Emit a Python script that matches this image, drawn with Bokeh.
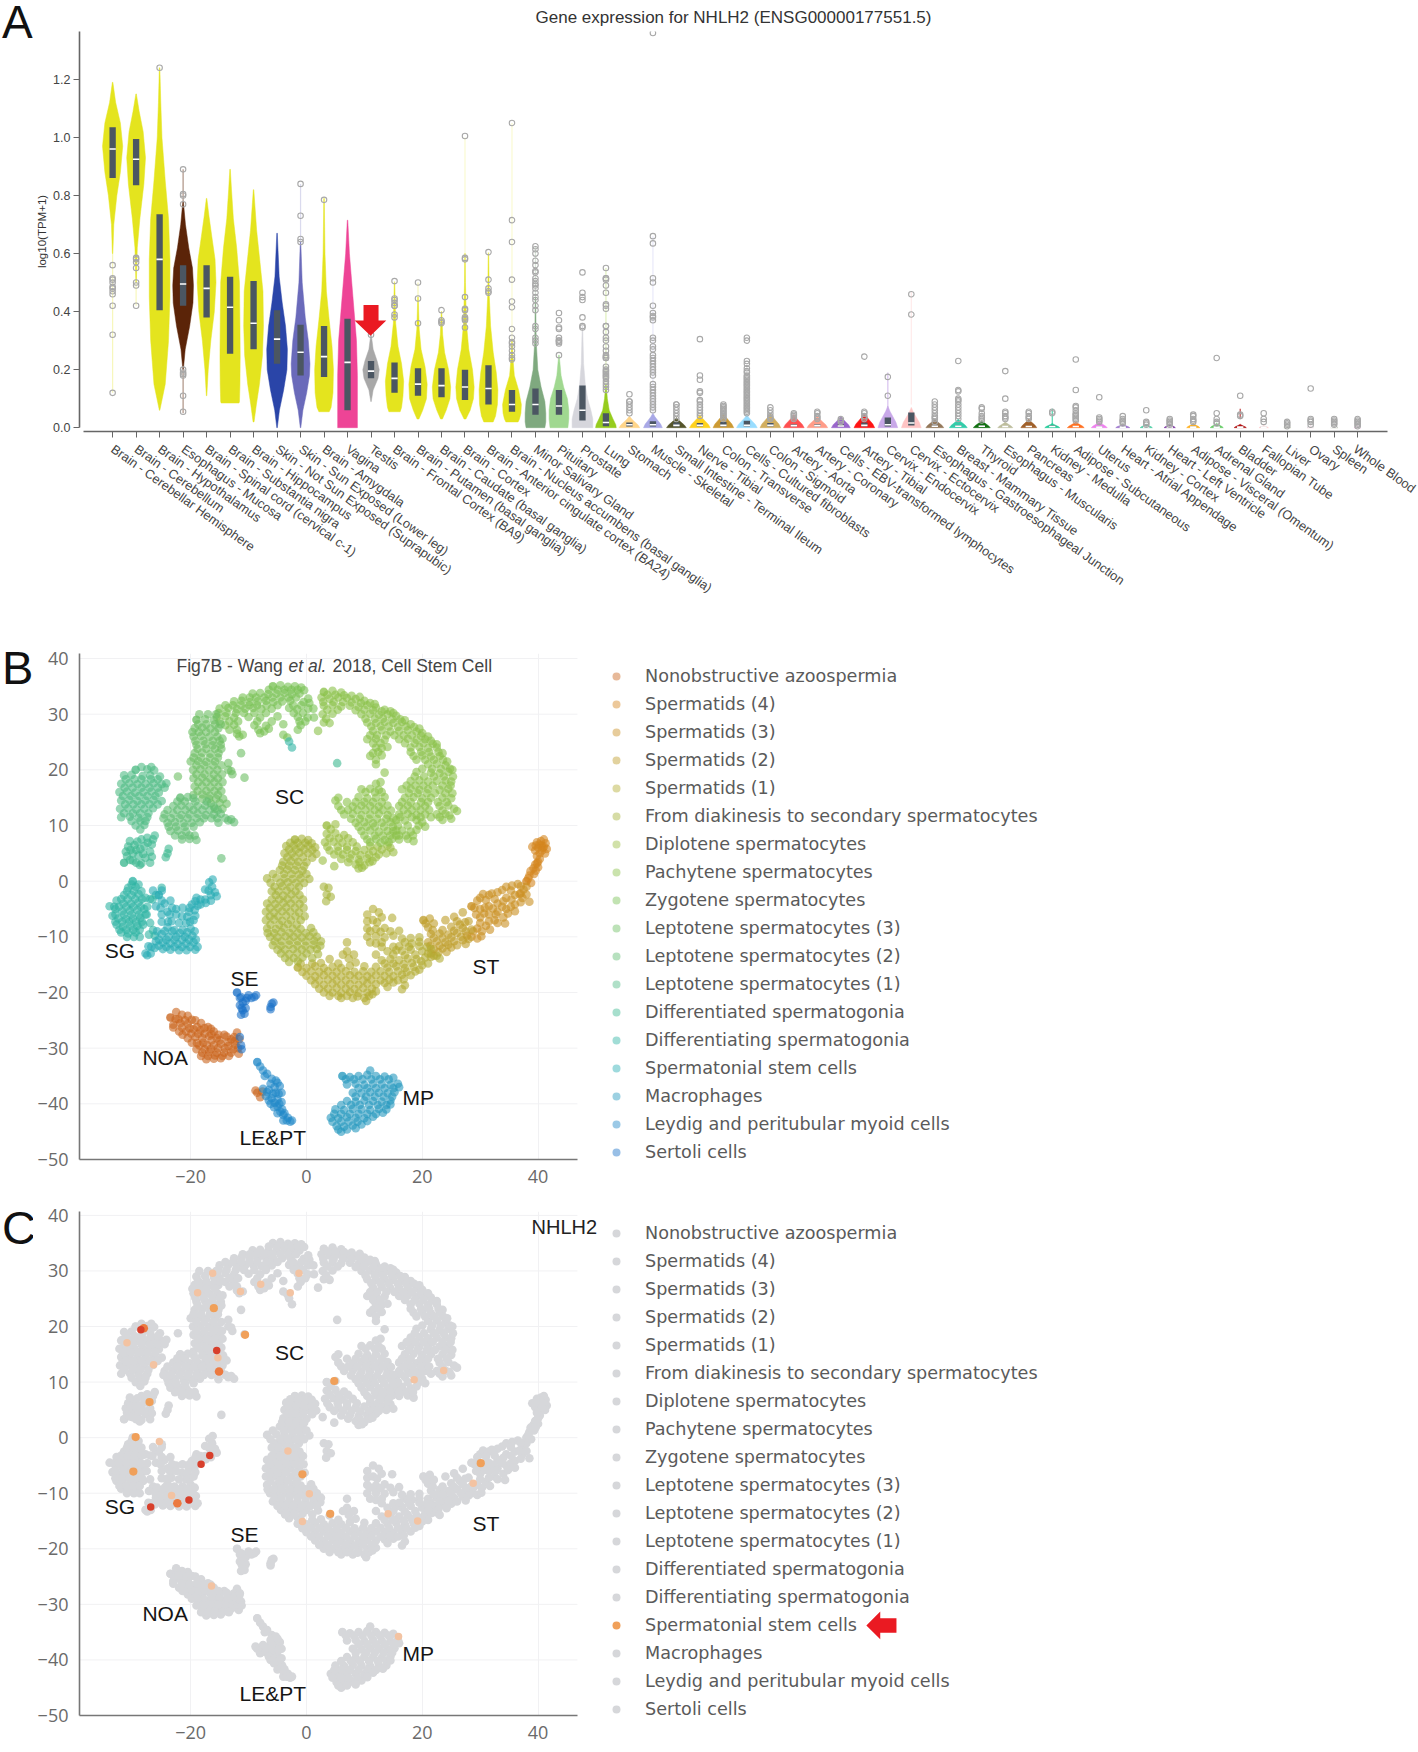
from bokeh.plotting import figure
from bokeh.layouts import column, row
from bokeh.embed import file_html
from bokeh.resources import INLINE
from bokeh.core.properties import value
from bokeh.models import (FixedTicker, Label, Legend, LegendItem, Range1d)
from math import radians

# ---------------------------------------------------------------- panel A data
tissues = ["Brain - Cerebellar Hemisphere", "Brain - Cerebellum", "Brain - Hypothalamus", "Esophagus - Mucosa",
           "Brain - Spinal cord (cervical c-1)", "Brain - Substantia nigra", "Brain - Hippocampus",
           "Skin - Not Sun Exposed (Suprapubic)", "Skin - Sun Exposed (Lower leg)", "Brain - Amygdala", "Vagina", "Testis",
           "Brain - Frontal Cortex (BA9)", "Brain - Putamen (basal ganglia)", "Brain - Caudate (basal ganglia)",
           "Brain - Cortex", "Brain - Anterior cingulate cortex (BA24)", "Brain - Nucleus accumbens (basal ganglia)",
           "Minor Salivary Gland", "Pituitary", "Prostate", "Lung", "Stomach", "Muscle - Skeletal",
           "Small Intestine - Terminal Ileum", "Nerve - Tibial", "Colon - Transverse", "Cells - Cultured fibroblasts",
           "Colon - Sigmoid", "Artery - Aorta", "Artery - Coronary", "Cells - EBV-transformed lymphocytes",
           "Artery - Tibial", "Cervix - Endocervix", "Cervix - Ectocervix", "Esophagus - Gastroesophageal Junction",
           "Breast - Mammary Tissue", "Thyroid", "Esophagus - Muscularis", "Pancreas", "Kidney - Medulla",
           "Adipose - Subcutaneous", "Uterus", "Heart - Atrial Appendage", "Kidney - Cortex", "Heart - Left Ventricle",
           "Adipose - Visceral (Omentum)", "Adrenal Gland", "Bladder", "Fallopian Tube", "Liver", "Ovary", "Spleen",
           "Whole Blood"]
Y = "#E4E41E"
tissue_colors = [Y, Y, Y, "#5B2408", Y, Y, Y, "#2A45A8", "#6A6ABA", Y, "#EE4496", "#A8A8A8", Y, Y, Y, Y, Y, Y,
                 "#7FA97F", "#A0D890", "#D6D6DC", "#96CC1E", "#FFD58A", "#A8A8E6", "#55552A", "#FFD21E", "#CC9A33",
                 "#99DDFF", "#D2AE5E", "#FF5050", "#FF9C88", "#9A66CC", "#FF1414", "#C8A8E8", "#FFC4C4", "#94785A",
                 "#33CCAA", "#107010", "#BDBD9C", "#A0602A", "#22CC99", "#FF7020", "#EE82EE", "#9A70CC", "#44CCA0",
                 "#7A30A0", "#FFB020", "#66CC66", "#B01010", "#FFCCCC", "#AABB66", "#FFAACC", "#788855", "#FF40C0"]

# violin outlines: heights and half widths (tall violins)
violin_y = [
    [.60, .70, .80, .88, .97, 1.05, 1.12, 1.19],
    [.50, .62, .72, .84, .93, 1.02, 1.09, 1.15],
    [.06, .15, .30, .45, .58, .72, .85, 1.0, 1.12, 1.24],
    [.20, .27, .35, .43, .49, .55, .62, .70, .78],
    [.11, .20, .30, .40, .50, .58, .66, .73, .79],
    [.085, .09, .15, .25, .35, .50, .62, .72, .82, .89],
    [.02, .08, .15, .25, .35, .47, .58, .68, .82],
    [.0, .06, .13, .20, .27, .35, .43, .52, .67],
    [.0, .06, .12, .18, .22, .30, .38, .50, .64],
    [.055, .07, .12, .20, .28, .37, .47, .60, .79],
    [.0, .08, .18, .30, .40, .50, .60, .715],
    [.09, .13, .17, .20, .23, .27, .32],
    [.055, .07, .11, .16, .22, .28, .36, .50],
    [.03, .06, .10, .15, .21, .27, .34, .45],
    [.03, .06, .10, .14, .20, .26, .32, .40],
    [.03, .06, .10, .14, .20, .27, .36, .50, .60],
    [.02, .04, .08, .13, .19, .26, .35, .46, .60],
    [.02, .03, .05, .08, .13, .18, .23, .30],
    [.0, .02, .05, .09, .14, .20, .30, .45],
    [.0, .03, .06, .10, .14, .18, .25],
    [.0, .03, .06, .10, .15, .22, .35],
    [.0, .01, .03, .06, .10, .15],
]
violin_w = [
    [.01, .05, .18, .33, .43, .33, .13, .01],
    [.01, .05, .16, .33, .40, .30, .13, .01],
    [.01, .24, .38, .44, .44, .38, .24, .10, .05, .01],
    [.01, .09, .28, .42, .44, .40, .24, .10, .01],
    [.01, .07, .18, .33, .40, .36, .22, .10, .01],
    [.38, .40, .42, .43, .42, .40, .28, .14, .06, .01],
    [.02, .12, .25, .38, .42, .40, .26, .13, .01],
    [.01, .10, .28, .42, .44, .36, .22, .09, .01],
    [.01, .10, .26, .38, .40, .33, .20, .07, .01],
    [.22, .30, .38, .40, .34, .22, .10, .04, .01],
    [.42, .42, .42, .38, .28, .18, .08, .01],
    [.01, .09, .30, .35, .26, .09, .01],
    [.24, .30, .36, .39, .30, .15, .05, .01],
    [.04, .20, .36, .39, .30, .13, .05, .01],
    [.04, .20, .36, .39, .30, .13, .05, .01],
    [.04, .22, .36, .39, .32, .16, .06, .02, .01],
    [.20, .30, .38, .40, .33, .20, .09, .03, .01],
    [.26, .32, .38, .40, .28, .10, .05, .01],
    [.40, .44, .44, .40, .24, .10, .03, .01],
    [.38, .42, .42, .36, .20, .09, .01],
    [.44, .44, .36, .22, .12, .05, .01],
    [.44, .42, .30, .14, .06, .01],
]
# low violins, from the 23rd tissue on
low_top = [.04, .05, .035, .045, .05, .045, .05, .045, .04, .04, .05, .075, .07, .03, .03, .025, .02, .03, .015, .02,
           .02, .012, .012, .012, .015, .015, .012, .008, .005, .006, .005, .005]
low_hw = [.44, .40, .42, .44, .44, .44, .44, .44, .44, .40, .44, .42, .42, .38, .38, .36, .32, .34, .32, .36, .34, .30,
          .26, .24, .28, .28, .26, .20, .14, .14, .14, .14]
low_steps = [0, .25, .5, .75, 1]
low_shape = [1, .82, .52, .22, 0]

box_q1 = [.86, .835, .405, .42, .38, .255, .27, .22, .18, .175, .06, .17, .12, .11, .105, .095, .08, .055, .045, .045,
          .025, .005, .004, .004, .004, .004, .004, .004, .004, .004, .004, .004, .004, .004, .008, .003, .003, .003,
          .002, .002, .002, .002, .001, .001, .001, .001, .001, .001, .001, .001, .001, .001, .001, .001]
box_med = [.96, .925, .58, .495, .48, .415, .36, .305, .26, .245, .225, .195, .17, .15, .145, .14, .135, .08, .08, .075,
           .06, .018, .01, .01, .008, .008, .008, .008, .008, .007, .007, .006, .008, .01, .016, .005, .005, .005,
           .004, .004, .004, .004, .002, .002, .002, .002, .002, .002, .002, .002, .002, .002, .002, .002]
box_q3 = [1.035, .995, .735, .56, .56, .52, .505, .405, .355, .35, .375, .23, .225, .205, .205, .2, .215, .13, .135, .13,
          .145, .05, .018, .022, .018, .016, .02, .024, .016, .012, .012, .012, .018, .035, .052, .008, .008, .008,
          .006, .006, .008, .006, .004, .004, .004, .004, .004, .004, .003, .003, .003, .003, .003, .003]

# thin outlier tails of the violins: tissue index, low, high
stem_i = [0, 1, 3, 3, 8, 9, 12, 13, 15, 16, 17, 18, 21, 23, 33, 34, 40, 48]
stem_lo = [.12, .42, .05, .78, .64, .79, .50, .45, .60, .60, .30, .45, .15, .05, .05, .08, .01, .03]
stem_hi = [.60, .50, .20, .89, .84, .79, .505, .50, 1.0, .605, 1.05, .625, .55, .66, .19, .47, .065, .065]
stem_alpha = [.3, .3, .5, .5, .25, .2, .3, .3, .2, .3, .2, .3, .3, .25, .7, .35, .8, .8]

outliers = {
    0: [.56, .515, .51, .50, .485, .48, .47, .46, .42, .32, .12],
    1: [.585, .58, .57, .55, .50, .49, .42],
    2: [1.24],
    3: [.89, .805, .80, .77, .20, .19, .185, .18, .11, .055],
    8: [.84, .73, .65, .64],
    9: [.785],
    11: [.32],
    12: [.505, .445, .44, .43, .42, .42, .39, .38],
    13: [.50, .445, .36],
    14: [.405, .37, .365, .36],
    15: [1.005, .585, .58, .45, .41, .405, .38, .375, .37, .345],
    16: [.605, .51, .48, .47, .465],
    17: [1.05, .715, .64, .51, .435, .415, .34, .31, .295, .29, .28, .265, .25, .24, .235],
    18: [.625, .615, .60, .575, .56, .54, .535, .515, .505, .495, .49, .48, .465, .45, .44, .42, .405, .35, .34, .31, .30, .29],
    19: [.395, .37, .345, .34, .31, .30, .30, .295, .29, .25],
    20: [.535, .465, .45, .44, .38, .35, .345],
    21: [.55, .515, .515, .51, .49, .465, .425, .42, .41, .35, .35, .33, .31, .30, .28, .265, .25, .245, .24, .24, .21, .20,
         .195, .19, .185, .18, .175, .17, .16, .15, .14, .13],
    22: [.115, .09, .09, .08, .07, .06, .05],
    23: [1.36, .66, .635, .515, .50, .42, .395, .385, .38, .37, .31, .30, .28, .27, .25, .24, .23, .22, .21, .20, .19, .18,
         .15, .14, .13, .12, .11, .10, .09, .08, .07, .06],
    24: [.08, .08, .07, .06, .05, .04, .03],
    25: [.305, .18, .165, .125, .12, .095, .09, .08, .07, .06, .05, .04],
    26: [.08, .075, .07, .065, .06, .055, .05, .045, .04, .035, .03],
    27: [.31, .30, .23, .22, .205, .195, .19, .18, .175, .17, .165, .16, .155, .15, .145, .14, .135, .13, .125, .12, .115,
         .11, .105, .10, .095, .09, .085, .08, .075, .07, .065, .06, .055, .05],
    28: [.07, .06, .05, .04, .035, .03],
    29: [.05, .045, .04, .035, .03],
    30: [.055, .05, .04, .035, .03],
    31: [.03, .025, .02],
    32: [.245, .055, .05, .04, .035, .03],
    33: [.175, .11],
    34: [.46, .39],
    35: [.09, .08, .07, .06, .05, .04, .035, .03, .02],
    36: [.23, .13, .125, .10, .095, .09, .08, .07, .06, .05, .04, .03],
    37: [.07, .065, .05, .04, .035, .03, .025],
    38: [.195, .10, .055, .05, .04, .035, .03],
    39: [.055, .05, .04, .035, .03],
    40: [.055, .05],
    41: [.235, .13, .075, .07, .06, .05, .045, .04, .035, .03, .025],
    42: [.105, .035, .03, .025, .02],
    43: [.04, .03, .025, .02, .015],
    44: [.06, .02, .015, .01],
    45: [.03, .025, .02, .015, .01],
    46: [.045, .04, .03, .025, .02],
    47: [.24, .05, .03, .02, .015],
    48: [.11, .045, .04],
    49: [.05, .03, .02],
    50: [.02, .015, .01, .005],
    51: [.135, .03, .025, .02, .01],
    52: [.03, .025, .02, .015, .01],
    53: [.03, .025, .02, .015, .01, .005],
}

# ---------------------------------------------------------------- panels B, C data
cluster_names = ["Nonobstructive azoospermia", "Spermatids (4)", "Spermatids (3)", "Spermatids (2)", "Spermatids (1)",
                 "From diakinesis to secondary spermatocytes", "Diplotene spermatocytes", "Pachytene spermatocytes",
                 "Zygotene spermatocytes", "Leptotene spermatocytes (3)", "Leptotene spermatocytes (2)",
                 "Leptotene spermatocytes (1)", "Differentiated spermatogonia", "Differentiating spermatogonia",
                 "Spermatonial stem cells", "Macrophages", "Leydig and peritubular myoid cells", "Sertoli cells"]
cluster_colors = ["#C9641C", "#D4861E", "#C98F22", "#BE9C28", "#B3AC32", "#A5B238", "#9ABC40", "#8AC24A", "#78C254",
                  "#6CBE62", "#60BC72", "#4FBB84", "#3CB890", "#2FB4A4", "#28ACB4", "#2598BE", "#2288C8", "#1A72C8"]

noa = [(-23.5, -24.5), (-22.5, -23.5), (-21.5, -24), (-20.5, -24.2), (-23, -25.8), (-21.8, -25.5), (-20.5, -25.6),
       (-19.2, -25), (-18.2, -25.5), (-22, -27), (-20.8, -27), (-19.5, -26.6), (-18.3, -26.8), (-17, -26.2), (-16, -27),
       (-20.5, -28.2), (-19.2, -28), (-18, -28.2), (-16.8, -27.8), (-15.5, -28.2), (-14.2, -27.6), (-13, -28.4),
       (-12, -27.2), (-18.5, -29.5), (-17.2, -29.4), (-16, -29.5), (-14.8, -29.2), (-13.5, -29.6), (-12.3, -29.4),
       (-11.6, -28.4), (-18, -30.8), (-16.8, -30.7), (-15.5, -30.8), (-14.2, -30.8), (-13, -30.8), (-17.3, -32),
       (-16, -31.9), (-14.8, -31.8), (-11.7, -31), (-22.6, -24.8), (-21, -25), (-19.9, -27.4), (-18.7, -27.4),
       (-17.6, -27.4), (-17.8, -29), (-16.4, -28.6), (-15, -28.6), (-14.1, -30), (-15.3, -30), (-16.5, -30.1),
       (-8.5, -38), (-8, -38.8), (-8.8, -37.6), (-7.6, -37.8), (-22.1, -24.8), (-19.8, -24.9), (-23, -26.3), (-21.5, -26.3),
       (-20.2, -26.4), (-18.9, -26.2), (-17.6, -26.4), (-16.5, -26.5), (-21.4, -27.6), (-16.4, -27.5), (-15.2, -27.6),
       (-13.8, -27.9), (-12.5, -28), (-19.8, -29), (-18.9, -29.1), (-13.6, -28.9), (-12.4, -28.7), (-19, -30.2), (-17.6, -30.2),
       (-12.7, -30.2), (-11.8, -30), (-18.2, -31.4), (-17, -31.4), (-15.8, -31.3), (-14.5, -31.4), (-13.4, -31.4)]
spd4 = [(38, 0), (38.8, -.3), (38.5, 1), (39.3, 1.3), (39.2, 2.3), (40, 2.5), (40, 3.5), (40.3, 4), (39.5, 3), (39, 6.2),
        (39.8, 7), (40.5, 7.2), (41.3, 6.8), (40, 6), (40.8, 6), (41.5, 5.8), (40.3, 5), (41.2, 5), (41, 7.5), (39.5, 5.5),
        (37, -2.2), (38.3, .5), (38.7, 1.8), (39.6, 1.9), (39.8, 3.2), (40.2, 6.6), (40.6, 6.4), (41, 6.2), (39.6, 6.4),
        (40.7, 5.5), (39.8, 4.5)]
spd3 = [(28.5, -4.5), (30, -3), (31.5, -2.5), (33, -2), (34.5, -1), (35.5, -.8), (36.5, -.5), (30, -5), (31.5, -4.5),
        (33, -4), (34.5, -3), (36, -2.5), (37.5, -1.5), (38, -1), (30, -6.5), (31.5, -6), (33, -5.5), (34.5, -5),
        (36, -4.2), (37.3, -3), (38.5, -3.7), (29.5, -8.5), (31, -8), (32.5, -7), (34, -6.5), (28.5, -10), (29.5, -10.3),
        (30.5, -2.3), (32, -2.2), (33.8, -1.6), (35.3, -1.7), (37, -.9), (29.5, -3.5), (31, -3.4), (32.5, -3.2), (34, -3.6),
        (35.4, -3.3), (36.8, -2.3), (38, -2.4), (29, -4.8), (30.8, -4.8), (32.2, -4.9), (33.8, -4.6), (35.3, -4.6), (37, -3.8),
        (29.3, -6), (30.7, -5.8), (32.7, -6), (34.8, -5.8), (36, -5.4), (30, -7.5), (31.5, -7.2), (33, -7.5), (34.3, -7.6),
        (28.8, -9), (30.3, -9), (31.7, -8.7), (27.7, -9.8), (30.2, -9.9)]
spd2 = [(20.2, -7), (21.3, -6.7), (24, -7), (25.5, -6.4), (27, -5.6), (21, -8.3), (25, -8.2), (26.5, -7.8), (28, -7.2),
        (21.5, -9.5), (23, -9.4), (24.5, -9.6), (26, -9.3), (27.5, -9), (21, -11), (22.5, -10.8), (24, -11), (25.5, -10.8),
        (27, -10.6), (22, -12.2), (23.5, -12.1), (25, -11.9), (21.5, -13), (20.6, -7.6), (22, -7.6), (26, -7.2), (27.4, -7.4),
        (21.8, -8.8), (23.5, -8.8), (25.5, -8.9), (27, -8.4), (28.5, -8.7), (22, -10.2), (23.5, -10.2), (25, -10.1), (26.7, -10),
        (28, -10.4), (21.4, -11.6), (23, -11.6), (24.5, -11.4), (26, -11.5), (27.5, -11.3), (22.8, -12.8), (24.2, -12.7), (22, -13.4)]
spd1 = [(-1.5, -15.5), (0, -15.6), (1.5, -15.3), (3, -15.6), (4.5, -15.4), (6, -15.6), (7.5, -15.2), (14, -15.5), (15.5, -15.3),
        (17, -15.6), (18.5, -15.4), (20, -15.1), (21, -14.8), (4, -14), (7.3, -13.9), (13, -14.2), (14.5, -14), (16, -14.2),
        (17.5, -13.9), (19, -14), (20.5, -13.7), (0, -17), (1.5, -17.1), (3, -16.9), (4.5, -17), (6, -17.1), (7.5, -16.9),
        (9, -17), (10.5, -17.1), (12, -16.9), (13.5, -17), (15, -17.1), (16.5, -16.8), (18, -16.9), (1.5, -18.5), (3, -18.6),
        (4.5, -18.4), (6, -18.6), (7.5, -18.5), (9, -18.6), (10.5, -18.4), (12, -18.5), (13.5, -18.3), (15, -18.2), (17, -18.7),
        (3, -20), (4.5, -20), (6, -20.1), (7.5, -19.9), (9, -20.1), (10.5, -20), (12, -19.8), (6, -21), (8, -21), (10, -21),
        (10.3, -21.5), (7, -12.6), (14, -12.6), (16.5, -12.5), (18, -12.3), (20, -12.6), (21.5, -12.2), (7, -11), (12, -11.2),
        (17, -11), (18.2, -11.2), (19.5, -10.9), (10.5, -6), (12.5, -5.6), (10.5, -7.2), (11.5, -7), (12.2, -7.4), (14.8, -6.6),
        (10.5, -8.5), (12, -8.6), (13.5, -8.4), (10.5, -10), (12, -9.9), (13.5, -10.1), (15, -9.8), (11, -11), (13, -11), (15.5, -12.4),
        (-.7, -16.3), (.8, -16.2), (2.2, -16.3), (3.7, -16.2), (5.2, -16.3), (6.8, -16.2), (8.3, -16.3), (9.8, -16.2), (11.2, -16.3),
        (12.8, -16.2), (14.3, -16.3), (15.8, -16.2), (17.3, -16.3), (18.8, -16.2), (19.5, -15.9), (-1, -14.8), (1, -14.8), (2.5, -14.7),
        (5.5, -14.8), (8.5, -14.6), (10, -15.3), (12, -15.4), (13.5, -14.8), (15, -14.8), (16.8, -14.9), (18.2, -14.7), (19.8, -14.4),
        (21.5, -13.6), (.8, -17.8), (2.2, -17.8), (3.7, -17.7), (5.2, -17.8), (6.8, -17.8), (8.3, -17.7), (9.8, -17.8), (11.2, -17.7),
        (12.8, -17.8), (14.3, -17.7), (15.8, -17.8), (16.8, -17.6), (2.2, -19.3), (3.7, -19.3), (5.2, -19.2), (6.8, -19.3), (8.3, -19.4),
        (9.8, -19.2), (11.3, -19.3), (14, -19), (16.5, -19.4), (4, -20.6), (5.5, -20.6), (7, -20.6), (8.8, -20.7), (10.8, -20.6),
        (11.4, -20.3), (6.3, -13.2), (8.2, -13.2), (12, -13.2), (15, -13.2), (17, -13.3), (18.8, -13.2), (21, -13), (22.5, -13.4),
        (23, -13.9), (13, -11.8), (15, -11.8), (16, -11.7), (17.7, -11.8), (19.5, -11.7), (20.8, -11.8), (16.5, -10.3), (18, -10.2),
        (19.5, -10.1), (11, -9), (12.8, -9.1), (14.5, -9), (16, -8.9), (13, -6.5), (11.5, -5)]
diak = [(-2, 7.5), (-.8, 7.6), (.3, 7.4), (-3.5, 6.3), (-2.2, 6.4), (-1, 6.2), (.3, 6.4), (1.5, 6.1), (-3.8, 5), (-2.5, 5),
        (-1.2, 5.1), (.3, 5), (1.7, 4.9), (-4, 3.5), (-2.7, 3.6), (-1.4, 3.5), (0, 3.4), (-4.6, 2), (-3.3, 2.1), (-2, 2),
        (-.7, 1.9), (-6.8, .5), (-5.2, .6), (-3.8, .5), (-2.4, .4), (-1, .5), (.5, .4), (-5.5, -1), (-4.2, -.9), (-2.8, -1.1),
        (-1.3, -1), (3, -1), (3.8, -1.2), (-5.3, -2.5), (-4, -2.6), (-2.6, -2.4), (-1.2, -2.5), (3.5, -2.4), (4.2, -2.8),
        (-6.8, -4), (-5.4, -4.1), (-4, -3.9), (-2.7, -4), (-1.2, -4.1), (3.4, -3.6), (-7, -5.5), (-5.6, -5.6), (-4.2, -5.4),
        (-2.8, -5.5), (-1.3, -5.6), (-7, -7), (-5.6, -6.9), (-4.2, -7.1), (-2.7, -7), (-1, -7), (-6.8, -8.5), (-5.3, -8.6),
        (-3.9, -8.4), (-2.4, -8.5), (-1, -8.6), (.8, -8.4), (-6.3, -10), (-5, -10.1), (-3.6, -9.9), (-2.2, -10), (-.8, -10.1),
        (.5, -9.9), (1.8, -10), (-5.8, -11.5), (-4.4, -11.6), (-3, -11.4), (-1.6, -11.5), (-.2, -11.6), (1.2, -11.4), (2.4, -11.6),
        (-4.4, -13), (-3, -13.1), (-1.6, -12.9), (0, -13), (2, -13.1), (-3, -14.5), (-1.5, -14.4),
        (-2.8, 6.9), (-1.5, 6.9), (-.2, 6.9), (.9, 6.8), (-3, 5.7), (-1.8, 5.7), (-.4, 5.7), (1, 5.6), (-3.3, 4.3), (-2, 4.3), (-.6, 4.3),
        (1, 4.2), (-4.2, 2.8), (-3, 2.8), (-1.7, 2.8), (-.4, 2.7), (-5.8, 1.3), (-3.9, 1.3), (-2.6, 1.3), (-1.3, 1.2), (0, 1.3),
        (-6.2, -.3), (-4.5, -.3), (-3.2, -.2), (-1.8, -.3), (-.4, -.3), (-6, -1.8), (-4.8, -1.8), (-3.4, -1.7), (-1.9, -1.8),
        (-6, -3.3), (-4.7, -3.3), (-3.3, -3.2), (-2, -3.3), (-.6, -3.3), (-6.3, -4.8), (-4.9, -4.8), (-3.5, -4.7), (-2, -4.8), (-.5, -4.8),
        (-6.3, -6.3), (-4.9, -6.3), (-3.5, -6.2), (-1.9, -6.3), (-.3, -6.3), (-6.2, -7.8), (-4.7, -7.8), (-3.2, -7.7), (-1.7, -7.8),
        (-6.7, -9.3), (-5.6, -9.3), (-4.3, -9.2), (-2.9, -9.3), (-1.5, -9.3), (-.1, -9.3), (1.2, -9.2), (-5.5, -10.8), (-4.3, -10.8),
        (-2.9, -10.7), (-1.5, -10.8), (-.1, -10.8), (1.3, -10.7), (2.5, -10.8), (-5, -12.3), (-3.7, -12.3), (-2.3, -12.2), (-.8, -12.3),
        (.7, -12.3), (1.8, -12.2), (-3.7, -13.8), (-2.2, -13.8), (-.7, -13.7), (1, -13.8)]
diplo = [(3.5, 10), (5, 10.2), (3.5, 8.5), (5, 8.6), (6.5, 8.3), (3.2, 7), (4.7, 7.1), (6.2, 6.9), (8, 7), (4, 5.5), (5.5, 5.4),
         (7, 5.6), (8.5, 5.4), (10, 5.6), (11.5, 5.4), (13, 5.7), (14.5, 6), (6, 4), (7.5, 4.1), (9, 3.9), (10.5, 4.1), (12, 4.3),
         (8.5, 3), (10, 2.8), (2.8, 3.7), (4.8, 2.7), (4.2, 9.3), (4, 7.7), (5.6, 7.7), (7.2, 7.7), (3.6, 6.2), (5.4, 6.2), (7, 6.2),
         (8.7, 6.2), (11, 6.3), (12.3, 6.2), (14, 6.4), (4.8, 4.8), (6.3, 4.8), (7.8, 4.8), (9.3, 4.7), (10.8, 4.8), (12.5, 4.8),
         (13.8, 5), (15, 5.2), (7.2, 3.4), (9.2, 3.4), (10.9, 3.4), (11.4, 3.6), (9, 2.3), (9.6, 2.4)]
pachy = [(3, 34), (4.5, 34.2), (6, 33.9), (2.6, 33), (4, 32.8), (5.5, 33), (7, 32.9), (8.5, 32.7), (10, 32.4), (3, 31.5), (4.5, 31.6),
         (6, 31.4), (7.5, 31.5), (9, 31.3), (10.5, 31.6), (12, 31.2), (13.5, 30.8), (2.8, 30), (4.5, 30.1), (9.5, 30), (11, 30.1),
         (12.5, 29.9), (14, 30), (15.5, 29.7), (3, 28.5), (4, 28.4), (10.5, 28.5), (12, 28.4), (13.5, 28.6), (15, 28.4), (16.5, 28.6),
         (18, 28.2), (2, 27), (11.5, 27), (13, 27.1), (14.5, 26.9), (16, 27), (17.5, 27.1), (19, 26.9), (20, 26.6), (10.5, 25.5), (12, 25.6),
         (13.5, 25.4), (16, 25.5), (17.5, 25.6), (19, 25.4), (20.5, 25.5), (21.5, 25.2), (12, 24), (13, 23.9), (14, 24.1), (18, 24),
         (19.5, 24.1), (21, 23.9), (22.5, 24), (11, 22.5), (11.5, 23), (13, 22.6), (18.5, 22.5), (20, 22.6), (21.5, 22.4), (23, 22.5), (12, 21),
         (21, 21), (22.5, 21.1), (24, 20.8), (13.5, 19.5), (19, 19.6), (21.5, 19.5), (23, 19.4), (24.5, 19.6), (18, 18), (19.5, 18.1), (21, 17.9),
         (22.5, 18), (24, 18.1), (25, 17.9), (16.5, 16.5), (18, 16.6), (19.5, 16.4), (21, 16.5), (23, 16.4), (24.5, 16.6), (17, 15), (18.5, 15.1),
         (20, 14.9), (21.5, 15), (23.5, 15), (25, 14.9), (16, 13.5), (17.5, 13.6), (19, 13.4), (20.5, 13.5), (23, 13.5), (24.5, 13.6), (16, 12),
         (17.5, 12.1), (19, 11.9), (20.5, 12), (22.5, 12), (24, 12.1), (26, 12.6), (15.5, 11), (17, 10.9), (19, 11), (20, 10.6), (23.5, 11), (25, 11.2),
         (15, 9), (16.5, 9.1), (18, 8.9), (19, 9.2), (16, 7.5), (17.5, 7.6), (18.5, 7.2), (12, 17.5), (12.8, 17.8), (9.5, 16.5), (11, 16.6), (12.5, 16.4),
         (5.5, 15), (9, 15.1), (10.5, 14.9), (12, 15), (13.5, 15.1), (5.5, 13.5), (8, 13.4), (9.5, 13.6), (11, 13.5), (12.5, 13.4), (14, 13.6), (6.5, 12),
         (8, 12.1), (9.5, 11.9), (11, 12), (12.5, 12.1), (14, 11.9), (8.5, 10.5), (10, 10.6), (11.5, 10.4), (13, 10.5), (14.5, 10.6), (9.5, 9), (11, 9.1),
         (12.5, 8.9), (14, 9), (15.5, 9.1), (10.5, 7.5), (12, 7.6), (13.5, 7.4), (14.8, 7.6),
         (3.6, 33.5), (5, 33.5), (6.5, 33.4), (7.8, 33.3), (9.2, 33.1), (2.9, 32.2), (4.7, 32.2), (6.3, 32.2), (7.8, 32.1), (9.4, 32), (11, 32), (11.8, 31.8),
         (3.6, 30.8), (5.4, 30.8), (8.5, 30.7), (10, 30.8), (11.5, 30.7), (13, 30.5), (14.5, 30.5), (15, 30.2), (3.4, 29.2), (10.2, 29.2), (11.8, 29.2),
         (13.2, 29.2), (14.8, 29.1), (16.2, 29.1), (17, 28.9), (11.2, 27.8), (12.8, 27.8), (14.2, 27.8), (15.8, 27.7), (17.2, 27.8), (18.6, 27.7), (19.5, 27.4),
         (11, 26.2), (12.2, 26.2), (13.8, 26.2), (15.2, 26.2), (16.8, 26.2), (18.2, 26.2), (19.8, 26.1), (21, 26), (11.5, 24.8), (12.8, 24.8), (17, 24.8), (18.7, 24.8),
         (20.2, 24.8), (21.8, 24.7), (22.5, 24.6), (12.4, 23.2), (18, 23.2), (19.8, 23.2), (21.2, 23.2), (22.8, 23.2), (23.5, 23), (12, 21.8), (19, 21.8), (20.5, 21.8),
         (22, 21.8), (23.6, 21.8), (24.3, 21.5), (20, 20.2), (21.7, 20.2), (23.2, 20.2), (24.8, 20.2), (25.2, 20), (18.7, 18.8), (20.3, 18.8), (22, 18.8), (23.7, 18.8),
         (25.3, 18.8), (17.3, 17.2), (18.8, 17.2), (20.2, 17.2), (21.8, 17.2), (23.5, 17.2), (24.9, 17.2), (17.7, 15.8), (19.2, 15.8), (20.8, 15.8), (22.2, 15.8),
         (24, 15.8), (25.2, 15.8), (16.5, 14.2), (18, 14.2), (19.8, 14.2), (21, 14.2), (22.7, 14.2), (24.2, 14.2), (16.8, 12.8), (18.2, 12.8), (19.7, 12.8), (21.2, 12.8),
         (23.5, 12.7), (25.5, 13), (16.2, 11.5), (18.2, 11.5), (19.7, 11.5), (21.5, 11.5), (23, 11.5), (24.7, 11.8), (15.8, 10), (17.5, 10), (19.4, 10), (20.5, 9.8),
         (15.5, 8.2), (17.2, 8.2), (18.4, 8.2), (10.2, 16), (11.8, 16), (13, 16), (7, 14.2), (8.5, 14.2), (10, 14.2), (11.5, 14.2), (13, 14.2), (5, 14.5), (6, 12.8),
         (7.2, 12.8), (8.8, 12.8), (10.2, 12.8), (11.8, 12.8), (13.2, 12.8), (14.6, 12.7), (7.7, 11.2), (9.2, 11.2), (10.8, 11.2), (12.2, 11.2), (13.8, 11.2), (15, 11.3),
         (9, 9.8), (10.4, 9.8), (11.8, 9.8), (13.4, 9.8), (14.9, 9.8), (10, 8.2), (11.8, 8.2), (13.2, 8.2), (14.5, 8.2), (16, 8.2), (11, 7), (12.8, 6.9), (14.2, 7)]
zygo = [(-5.8, 35), (-4.5, 35.2), (-3.2, 34.9), (-2, 35), (-.9, 34.8), (-9.3, 33.7), (-8, 33.8), (-6.6, 33.6), (-5.2, 33.7), (-3.8, 33.8),
        (-2.5, 33.6), (-1.2, 33.7), (-12.5, 32.3), (-11.2, 32.4), (-9.8, 32.2), (-8.4, 32.3), (-7, 32.4), (-5.7, 32.2), (-4.2, 32.3), (-2.8, 32.4),
        (-.5, 32.2), (.5, 32), (-15, 31), (-13.5, 31.1), (-12, 30.9), (-10.6, 31), (-9.2, 31.1), (-7.8, 30.9), (-6, 31), (-3, 31.1), (-1.6, 30.9),
        (.3, 31), (-15.5, 29.5), (-14, 29.6), (-12.5, 29.4), (-10, 29.5), (-8, 29.4), (-5, 29.6), (-1.5, 29.5), (.2, 29.4), (-14, 28), (-12.5, 28.1),
        (-9, 28), (-7, 27.9), (-6.5, 27.4), (-1, 28), (-4, 28.2), (-12, 26.5), (-11, 26.3), (-8, 26.6), (-7.3, 26.9), (-4, 26.3), (-3.3, 25.8),
        (-6.5, 34.4), (-5, 34.4), (-3.8, 34.4), (-2.6, 34.4), (-1.5, 34.4), (-.4, 34.3), (-11, 33), (-9.8, 33), (-8.7, 33), (-7.3, 33), (-5.9, 33), (-4.5, 33),
        (-3.1, 33), (-1.8, 33), (.3, 32.8), (-14, 31.6), (-12.7, 31.6), (-11.3, 31.6), (-9.9, 31.6), (-8.5, 31.6), (-6.9, 31.6), (-5, 31.6), (-2.3, 31.6), (-.9, 31.6),
        (-15.2, 30.2), (-13.8, 30.2), (-12.2, 30.2), (-10.8, 30.2), (-9, 30.2), (-7, 30.2), (-2.2, 30.2), (-.6, 30.2), (-15, 28.7), (-13.3, 28.7), (-11.8, 28.7),
        (-8.5, 28.7), (-6, 28.7), (-1.2, 28.7), (-.2, 28.7), (-13.3, 27.2), (-12, 27.2), (-8.3, 27.2), (-1.5, 27.2), (-11.6, 26), (1.2, 31), (1.3, 29.4)]
lep3 = [(-19, 29), (-17.5, 29.1), (-16, 28.9), (-19.3, 27.5), (-18, 27.6), (-16.6, 27.4), (-15.2, 27.5), (-19.5, 26), (-18.2, 26.1), (-16.8, 25.9),
        (-15.4, 26), (-14.5, 25.6), (-19, 24.5), (-17.5, 24.6), (-16.2, 24.4), (-14.8, 24.5), (-19.3, 23), (-18, 23.1), (-16.6, 22.9), (-15.2, 23),
        (-11.3, 23), (-20, 21.5), (-18.7, 21.6), (-17.3, 21.4), (-15.8, 21.5), (-13.5, 21.2), (-19.6, 20), (-18.3, 20.1), (-16.8, 19.9), (-15.4, 20),
        (-13.5, 20), (-19.5, 18.5), (-18, 18.6), (-16.6, 18.4), (-15.3, 18.5), (-12.8, 19.2), (-10.7, 18.6), (-19.3, 17), (-18, 17.1), (-16.6, 16.9),
        (-15.2, 17), (-19.5, 15.5), (-18, 15.6), (-16.7, 15.4), (-15.3, 15.5), (-16.5, 14), (-15, 14.1), (-13.8, 13.9), (-22.2, 18.8),
        (-18.5, 30), (-17, 30), (-15.6, 30), (-18.7, 28.2), (-17.3, 28.2), (-15.8, 28.2), (-14.8, 28.2), (-19.7, 26.8), (-18.6, 26.8), (-17.3, 26.8), (-15.8, 26.8),
        (-19.2, 25.2), (-17.8, 25.2), (-16.2, 25.2), (-15, 25.2), (-18.8, 23.8), (-17.3, 23.8), (-15.8, 23.8), (-14.7, 23.8), (-19.5, 22.2), (-18.2, 22.2), (-16.7, 22.2),
        (-15.3, 22.2), (-19, 20.8), (-17.6, 20.8), (-16.1, 20.8), (-14.7, 20.8), (-19, 19.2), (-17.6, 19.2), (-16, 19.2), (-14.6, 19.2), (-13, 19.8), (-18.7, 17.8), (-17.3, 17.8),
        (-15.9, 17.8), (-14.5, 17.8), (-18.8, 16.2), (-17.3, 16.2), (-15.9, 16.2), (-14.7, 16.2), (-18, 14.8), (-16.8, 14.8), (-15.6, 14.8), (-14.4, 14.8), (-15.8, 13), (-14.5, 13)]
lep2 = [(-21.8, 15), (-20.5, 15.1), (-19.5, 14.9), (-23, 13.5), (-21.6, 13.6), (-20.2, 13.4), (-18.8, 13.5), (-17.5, 13.6), (-16, 13.4), (-24.5, 12),
        (-23, 12.1), (-21.6, 11.9), (-20.2, 12), (-18.8, 12.1), (-17.4, 11.9), (-16, 12), (-14.8, 12.1), (-24, 10.5), (-22.7, 10.6), (-21.2, 10.4),
        (-19.8, 10.5), (-18.4, 10.6), (-15.2, 10.5), (-13.5, 10.9), (-12.5, 10.6), (-23.5, 9), (-22.2, 9.1), (-20.8, 8.9), (-21.5, 7.5), (-20.2, 7.6),
        (-19, 7.4), (-14.7, 4.1), (-22.3, 14.3), (-21, 14.3), (-19.2, 14.3), (-17.2, 14.3), (-24, 12.8), (-22.3, 12.8), (-20.9, 12.8), (-19.5, 12.8), (-18, 12.8),
        (-16.7, 12.8), (-15.3, 12.8), (-24.7, 11.3), (-23.4, 11.3), (-21.9, 11.3), (-20.5, 11.3), (-19, 11.3), (-17.7, 11.3), (-16.4, 11.3), (-15.4, 11.3), (-14, 11.3), (-13, 11.1),
        (-23.8, 9.8), (-22.5, 9.8), (-21, 9.8), (-19.5, 9.8), (-22.7, 8.2), (-21.5, 8.2), (-20.2, 8.2), (-19.3, 8.2)]
lep1 = [(-29.5, 20), (-27.5, 20.1), (-26.3, 19.9), (-31.5, 19), (-30.2, 19.1), (-28.3, 18.9), (-27, 19), (-25.3, 18.8), (-32, 17.5), (-30.6, 17.6),
        (-29.2, 17.4), (-27.8, 17.5), (-26.4, 17.6), (-25, 17.4), (-24.2, 17.6), (-32.3, 16), (-31, 16.1), (-29.6, 15.9), (-28.2, 16), (-26.8, 16.1),
        (-25.5, 15.9), (-32, 14.5), (-30.6, 14.6), (-29.2, 14.4), (-27.8, 14.5), (-26.4, 14.6), (-25, 14.4), (-32.2, 13), (-30.8, 13.1), (-29.4, 12.9),
        (-28, 13), (-26.5, 13.1), (-32, 11.5), (-30.5, 11.6), (-29, 11.4), (-27.5, 11.5), (-29.5, 10), (-28, 10.1),
        (-28.5, 20.5), (-26.8, 20.5), (-31.2, 18.3), (-29.7, 18.3), (-28.5, 18.3), (-26.9, 18.3), (-25.7, 18.3), (-31.4, 16.8), (-30, 16.8), (-28.5, 16.8), (-27.1, 16.8),
        (-25.7, 16.8), (-24.5, 16.8), (-31.7, 15.3), (-30.3, 15.3), (-28.9, 15.3), (-27.5, 15.3), (-26.1, 15.3), (-31.3, 13.8), (-29.9, 13.8), (-28.5, 13.8), (-27.1, 13.8),
        (-25.7, 13.8), (-31.5, 12.2), (-30, 12.2), (-28.7, 12.2), (-27.3, 12.2), (-30.2, 10.8), (-28.7, 10.8), (-27.8, 10.8), (-28.7, 9.3)]
diffd = [(-31.5, 3.3), (-31, 4.5), (-30, 3.7), (-30, 5), (-29, 4.6), (-30.8, 6.2), (-29.7, 6.5), (-28.7, 5.8), (-28, 6.3), (-27, 5.3), (-27.8, 4.2),
         (-28.5, 3.2), (-27, 3.3), (-28.5, 7.5), (-27.5, 7.8), (-26.5, 7.5), (-26.2, 8.2), (-24, 5), (-24.3, 4.3), (-23.8, 5.8), (5.3, 21.2),
         (-30.5, 3.8), (-29.4, 3.3), (-31.2, 5.3), (-30.4, 5.6), (-29.4, 5.6), (-29.2, 7.1), (-28.2, 4.9), (-27.4, 6.9), (-26.7, 6.6), (-28.8, 2.9), (-30.5, 7.2), (-26.7, 4.4)]
diffg = [(-30, 0), (-29.5, -1), (-30.8, -1.2), (-31.5, -2.5), (-30.2, -2.5), (-29, -2.3), (-27.8, -3), (-32.8, -3.5), (-31.6, -4), (-30.3, -4), (-29, -3.8),
         (-34, -4.5), (-33, -5), (-31.8, -5.4), (-30.5, -5.3), (-29.2, -5.2), (-28, -5), (-33.5, -6.2), (-32.5, -6.7), (-31.2, -6.8), (-30, -6.7),
         (-28.7, -6.6), (-32.8, -7.8), (-31.7, -8.2), (-30.4, -8), (-29.2, -8), (-28.2, -7.8), (-32, -9.2), (-30.8, -9.4), (-29.5, -9.2), (-25, -1.2),
         (-26, -2.5), (-27, -3.2), (-3, 25.1), (-2.5, 24), (-30.2, -.6), (-29, -.6), (-31, -1.8), (-29.8, -1.8), (-28.5, -1.8), (-32, -3.2), (-30.9, -3.2), (-29.6, -3.2),
         (-28.4, -3.2), (-26.6, -3.3), (-33.2, -4.6), (-32.4, -4.6), (-31.1, -4.6), (-29.9, -4.6), (-28.6, -4.6), (-27.5, -4.6), (-33, -6), (-31.5, -6), (-30.2, -6), (-28.9, -6),
         (-27.8, -6), (-33, -7.3), (-31.8, -7.3), (-30.6, -7.3), (-29.4, -7.3), (-28.4, -7.3), (-32.3, -8.7), (-31.1, -8.7), (-29.9, -8.7), (-28.8, -8.7), (-31, -10), (-29.8, -10), (-28.8, -10),
         (-27, -7.5), (-26.5, -8.8), (-27.2, -9.6), (-26.2, -9.8), (-27.6, -6)]
ssc = [(-25.5, -2.5), (-24.5, -4), (-26, -4.5), (-24, -5.5), (-22.5, -5), (-21.5, -6.3), (-20.3, -5.5), (-19.3, -5.2), (-18.3, -4.2), (-17.5, -3.3),
       (-16.5, -2.5), (-15.5, -2.7), (-16.3, -1), (-16.8, -.2), (-16.2, .3), (-17.5, -1.5), (-19, -3), (-19.8, -4.2), (-20.8, -7.5), (-22, -7.5),
       (-23.3, -7.2), (-24, -8.3), (-22.8, -8.8), (-21.4, -8.8), (-20, -8.5), (-25, -9.5), (-23.8, -10), (-22.5, -10), (-21, -10), (-19.7, -9.8),
       (-26, -10.8), (-24.8, -11), (-23.5, -11.2), (-22.2, -11.3), (-20.8, -11.2), (-19.5, -11), (-27.3, -11.7), (-26.2, -12), (-24.8, -12.2),
       (-23.5, -12.3), (-22, -12.4), (-20.7, -12.4), (-19.2, -12.3), (-27.8, -13), (-27.5, -13.3), (-25, -1.7), (-26.5, -1.7), (-16.9, -1.7), (-25, -3.5), (-23.5, -3.5),
       (-19.2, -3.6), (-18.3, -3.3), (-16.5, -3.5), (-15.8, -2), (-25.2, -4.8), (-23.2, -4.8), (-21.4, -4.8), (-20.2, -4.8), (-18.8, -4.4), (-17.4, -3.9), (-25, -6), (-23.6, -6),
       (-22.5, -6), (-20.6, -6.4), (-19.2, -6.2), (-25, -7.3), (-23.9, -7.3), (-20.1, -7.3), (-19.5, -7), (-25.8, -9), (-24.5, -9), (-23.2, -9), (-21.9, -9.3), (-20.6, -9.2), (-19.3, -9),
       (-25.5, -10.5), (-24.2, -10.5), (-22.8, -10.5), (-21.5, -10.5), (-20.3, -10.5), (-19.1, -10.5), (-26.8, -11.8), (-25.5, -11.6), (-24.2, -11.8), (-22.8, -11.8),
       (-21.5, -11.8), (-20.1, -11.8), (-18.8, -11.8), (-26.9, -13)]
macro = [(6.2, -35), (7.5, -35.2), (9, -35), (10.5, -34.8), (11, -34), (12, -35), (13.5, -35.1), (15, -35.3), (7, -36.5), (8.5, -36.4), (10, -36.6),
         (11.5, -36.4), (13, -36.5), (14.5, -36.6), (15.8, -36.4), (8, -38), (9.5, -38.1), (11, -37.9), (12.5, -38), (14, -38.1), (15.2, -37.9), (7, -39.5),
         (8.5, -39.6), (10, -39.4), (11.5, -39.5), (13, -39.6), (14.5, -39.4), (5, -41), (6.5, -41.1), (8, -40.9), (9.5, -41), (11, -41.1), (12.5, -40.9),
         (13.8, -41), (4.2, -42.5), (5.5, -42.6), (7, -42.4), (8.5, -42.5), (10, -42.6), (11.5, -42.3), (5.2, -44), (6.5, -44.1), (8, -43.9), (9.5, -43.7), (6, -45),
         (6.8, -35.6), (8.2, -35.6), (9.7, -35.6), (11.2, -35.6), (12.7, -35.6), (14.2, -35.6), (9, -37.2), (10.5, -37.2), (12, -37.2), (13.5, -37.2), (15, -37.2), (16, -37),
         (8.5, -38.7), (10.3, -38.7), (11.8, -38.7), (13.3, -38.7), (14.8, -38.7), (6, -40.2), (7.7, -40.2), (9.2, -40.2), (10.8, -40.2), (12.3, -40.2), (13.8, -40.2), (14.5, -40.1),
         (4.8, -41.8), (6, -41.8), (7.5, -41.8), (9, -41.8), (10.5, -41.8), (12, -41.8), (13.2, -41.6), (4.5, -43.2), (6, -43.2), (7.3, -43.2), (8.8, -43.2), (10.5, -43.1), (5.5, -44.6), (7, -44.6), (8.5, -44.4)]
leydig = [(-8.5, -32.5), (-8, -33.3), (-7.5, -34), (-6.8, -34.6), (-6, -35.5), (-5.3, -35.8), (-5.5, -37), (-4.6, -36.8), (-7.5, -37.3), (-6.5, -37.5),
          (-5.3, -38), (-4.3, -38), (-7, -38.6), (-6, -39), (-5, -39.2), (-4.3, -39.7), (-6.2, -40), (-5, -40.5), (-4.2, -41), (-5, -41.7), (-4, -42), (-3.2, -42.5),
          (-2.5, -43), (-4, -43), (-7.2, -35), (-6.2, -36.4), (-5, -36.2), (-6.8, -37.9), (-5.8, -38.2), (-4.8, -38.2), (-6.5, -39.4), (-5.5, -39.8), (-4.7, -40),
          (-5.6, -40.6), (-4.5, -41.4), (-3.8, -41.7), (-3.4, -43), (-2.8, -43.2)]
sertoli = [(-12, -20), (-11.5, -21), (-10.5, -21.5), (-9.5, -21), (-9, -20.8), (-8.7, -20.5), (-10, -20.5), (-11.5, -22.3), (-11, -23.2), (-11.3, -24),
           (-10.5, -22.8), (-6, -22), (-6.2, -23), (-5.7, -21.8), (-11.5, -28), (-11.3, -29.5), (-11.2, -30.2), (-11, -21.8), (-10.3, -21), (-11.2, -22.8),
           (-10.7, -23.8), (-6.2, -22.6), (-11.3, -20.8)]
clusters = [noa, spd4, spd3, spd2, spd1, diak, diplo, pachy, zygo, lep3, lep2, lep1, diffd, diffg, ssc, macro, leydig, sertoli]

# cells that express NHLH2 in panel C
expr_pale = [(-16.2, 29.6), (-18.8, 26.1), (-31, 17.1), (-26.4, 13.1), (-15.3, 14.4), (-25.4, -.7), (-23.3, -10.4), (-16.4, -26.7), (15.9, -35.8), (28.8, -8.2),
             (19.2, -15), (14.1, -13.7), (-.7, -15.1), (.5, -10.1), (-3.2, -2.4), (18.6, 10.4), (23.7, 12.1), (-1.3, 29.6), (-2.8, 26.1), (-7.9, 27.6), (-11.4, 26.3)]
expr_mid = [(-10.6, 18.5), (-16, 23.3), (-27.1, 6.4), (-29.5, .1), (-29.9, -6.1), (30.1, -4.6), (4.1, -13.7), (-.7, -6.6), (4.8, 10.2)]
expr_high = [(-15.1, 11.9), (-28.1, 19.7), (-22.3, -11.8)]
expr_top = [(-15.5, 15.7), (-28.6, 19.4), (-18.2, -4.8), (-16.7, -3.2), (-26.9, -12.5), (-20.3, -11.2)]

cell_labels = ["SC", "SG", "SE", "NOA", "LE&PT", "MP", "ST"]
cell_label_x = [-2.9, -32.2, -10.7, -24.4, -5.8, 19.3, 31]
cell_label_y = [15.3, -12.4, -17.4, -31.6, -46, -38.8, -15.4]

y_ticks_a = [0, .2, .4, .6, .8, 1.0, 1.2]
x_ticks_tsne = [-20, 0, 20, 40]
y_ticks_tsne = [-50, -40, -30, -20, -10, 0, 10, 20, 30, 40]

# red pointer next to the "Spermatonial stem cells" legend row, in panel C's x and y units
pointer_x = [96.7, 99.1, 99.1, 101.9, 101.9, 99.1, 99.1]
pointer_y = [-33.8, -31.3, -32.5, -32.5, -35.1, -35.1, -36.3]

# ---------------------------------------------------------------- layout constants
SANS = "Liberation Sans"
LETTER_W = 33
FRAME_LEFT = 79          # page x of the y axes
PANEL_W = 1418 - LETTER_W
BORDER_L = FRAME_LEFT - LETTER_W


def letter_fig(letter, height, baseline, size):
    f = figure(width=LETTER_W, height=height, output_backend="svg", toolbar_location=None, align="start", frame_align=False,
               x_range=Range1d(0, LETTER_W), y_range=Range1d(height, 0), frame_width=LETTER_W, frame_height=height,
               x_axis_location=None, y_axis_location=None, outline_line_color=None,
               min_border_left=0, min_border_right=0, min_border_top=0, min_border_bottom=0)
    f.grid.visible = False
    f.text([1.5], [baseline], text=[letter], text_font=value(SANS), text_font_size=value(size), text_color="#111111",
           text_align="left", text_baseline="alphabetic")
    return f


# ---------------------------------------------------------------- panel A
pa = figure(width=PANEL_W, height=628, output_backend="svg", toolbar_location=None, align="start", frame_align=False,
            frame_width=1308, frame_height=400,
            x_range=Range1d(-1.41, 54.27), y_range=Range1d(-.0131, 1.365),
            min_border_left=BORDER_L, min_border_right=31, min_border_top=30, min_border_bottom=198,
            outline_line_color=None, title="Gene expression for NHLH2 (ENSG00000177551.5)")
pa.title.align = "center"
pa.title.text_font = SANS
pa.title.text_font_style = "normal"
pa.title.text_font_size = "17px"
pa.title.text_color = "#333333"
pa.title.standoff = 10
pa.xgrid.visible = False
pa.ygrid.visible = False

xs, ys = [], []
for i, col in enumerate(tissue_colors):
    if i < len(violin_y):
        vy, vw = violin_y[i], violin_w[i]
    else:
        j = i - len(violin_y)
        vy = [low_top[j] * s for s in low_steps]
        vw = [low_hw[j] * s for s in low_shape]
    xs.append([i - w for w in vw] + [i + w for w in reversed(vw)])
    ys.append(list(vy) + list(reversed(vy)))
pa.segment(stem_i, stem_lo, stem_i, stem_hi, line_color=[tissue_colors[i] for i in stem_i], line_alpha=stem_alpha, line_width=1.2)
pa.patches(xs, ys, fill_color=tissue_colors, line_color=tissue_colors, line_width=.5)
pa.vbar(x=list(range(54)), top=box_q3, bottom=box_q1, width=.27, fill_color="#4B5662", line_color=None)
pa.segment([i - .135 for i in range(54)], box_med, [i + .135 for i in range(54)], box_med, line_color="white", line_width=1.6)
out_x = [i for i, v in outliers.items() for _ in v]
out_y = [y for v in outliers.values() for y in v]
pa.scatter(out_x, out_y, size=5.5, fill_color=None, line_color="#A8A8A8", line_width=1.1)

# red arrow over Testis
arrow_x = [10.68, 11.32, 11.32, 11.65, 10.98, 10.3, 10.68]
arrow_y = [.423, .423, .369, .369, .317, .369, .369]
pa.patch(arrow_x, arrow_y, fill_color="#EA1A22", line_color=None)

pa.xaxis.ticker = FixedTicker(ticks=list(range(54)))
pa.xaxis.major_label_overrides = {i: t for i, t in enumerate(tissues)}
pa.xaxis.major_label_orientation = -radians(35.5)
pa.xaxis.major_label_text_font = SANS
pa.xaxis.major_label_text_font_size = "12.8px"
pa.xaxis.major_label_text_color = "#444444"
pa.xaxis.major_label_standoff = 10
pa.xaxis.axis_line_color = "#666666"
pa.xaxis.axis_line_width = 1.6
pa.xaxis.major_tick_line_color = "#666666"
pa.xaxis.major_tick_in = 0
pa.xaxis.major_tick_out = 6
pa.xaxis.minor_tick_line_color = None
pa.xaxis.bounds = (-1.23, 54.27)
pa.yaxis.ticker = FixedTicker(ticks=y_ticks_a)
pa.yaxis.major_label_overrides = {0: "0.0", .2: "0.2", .4: "0.4", .6: "0.6", .8: "0.8", 1.0: "1.0", 1.2: "1.2"}
pa.yaxis.axis_label = "log10(TPM+1)"
pa.yaxis.axis_label_text_font = SANS
pa.yaxis.axis_label_text_font_style = "normal"
pa.yaxis.axis_label_text_font_size = "11.5px"
pa.yaxis.axis_label_text_color = "#333333"
pa.yaxis.axis_label_standoff = 2
pa.yaxis.major_label_standoff = 3
pa.yaxis.major_label_text_font = SANS
pa.yaxis.major_label_text_font_size = "12.5px"
pa.yaxis.major_label_text_color = "#444444"
pa.yaxis.axis_line_color = "#666666"
pa.yaxis.axis_line_width = 1.6
pa.yaxis.major_tick_line_color = "#666666"
pa.yaxis.major_tick_in = 0
pa.yaxis.major_tick_out = 6
pa.yaxis.minor_tick_line_color = None
pa.yaxis.bounds = (0, 1.365)

# ---------------------------------------------------------------- panels B and C
TSNE_RIGHT = 46.8
TSNE_FRAME_W = 1331
TSNE_X_END = 190.68


def tsne_panel(height, frame_h, top, bottom, y_hi, grey):
    p = figure(width=PANEL_W, height=height, output_backend="svg", toolbar_location=None, align="start", frame_align=False,
               frame_width=TSNE_FRAME_W, frame_height=frame_h, x_range=Range1d(-39.2, TSNE_X_END), y_range=Range1d(-50, y_hi),
               min_border_left=BORDER_L, min_border_right=8, min_border_top=top, min_border_bottom=bottom,
               outline_line_color=None)
    p.xgrid.ticker = FixedTicker(ticks=x_ticks_tsne)
    p.xgrid.grid_line_color = "#F1F1F3"
    p.ygrid.visible = False
    p.segment([-39.2] * len(y_ticks_tsne), y_ticks_tsne, [TSNE_RIGHT] * len(y_ticks_tsne), y_ticks_tsne, line_color="#F1F1F3", line_width=1)
    items = []
    for name, col, pts in zip(cluster_names, cluster_colors, clusters):
        xv, yv = [a for a, _ in pts], [b for _, b in pts]
        # the first cell of each cluster, paler, is what the legend shows
        key = p.scatter(xv[:1], yv[:1], size=8, fill_color="#D6D7DA" if grey else col, fill_alpha=1 if grey else .45, line_color=None)
        p.scatter(xv, yv, size=8.6, fill_color="#D6D7DA" if grey else col, fill_alpha=1 if grey else .6, line_color=None)
        items.append(LegendItem(label=name, renderers=[key]))
    p.xaxis.ticker = FixedTicker(ticks=x_ticks_tsne)
    p.yaxis.ticker = FixedTicker(ticks=y_ticks_tsne)
    p.xaxis.bounds = (-39.2, TSNE_RIGHT)
    minus = {v: str(v).replace("-", "\u2212") for v in x_ticks_tsne + y_ticks_tsne}
    for ax in (p.xaxis, p.yaxis):
        ax.major_label_overrides = minus
        ax.major_label_text_font = "Open Sans"
        ax.major_label_text_font_size = "18px"
        ax.major_label_text_color = "#6A6A6A"
        ax.major_tick_line_color = None
        ax.minor_tick_line_color = None
        ax.axis_line_color = "#777777"
        ax.axis_line_width = 1.6
    p.xaxis.major_label_standoff = 4
    p.yaxis.major_label_standoff = 5
    p.text(cell_label_x, cell_label_y, text=cell_labels, text_font=value(SANS), text_font_size=value("21px"),
           text_color="#151515", text_align="center", text_baseline="middle")
    return p, items


def finish_legend(p, items, y_off):
    leg = Legend(items=items, location=(587 - FRAME_LEFT, y_off), orientation="vertical", margin=0, padding=0, spacing=8,
                 label_height=20, glyph_height=20, glyph_width=58, label_standoff=0,
                 label_text_font="DejaVu Sans", label_text_font_size="17.6px", label_text_color="#5A5A5A",
                 border_line_color=None, background_fill_color=None, background_fill_alpha=0)
    p.add_layout(leg)


pb, items_b = tsne_panel(568, 506, 24, 38, 40.9, False)
finish_legend(pb, items_b, -3)
for txt, px, style in [("Fig7B - Wang", 176, "normal"), ("et al.", 288, "italic"), ("2018, Cell Stem Cell", 332, "normal")]:
    pb.add_layout(Label(x=px - FRAME_LEFT, y=494, x_units="screen", y_units="screen", text=txt, text_font=SANS,
                        text_font_style=style, text_font_size="17.5px", text_color="#444444", text_baseline="middle"))

pc, items_c = tsne_panel(552, 504, 14, 34, 40.7, True)
pc.scatter([a for a, _ in expr_pale], [b for _, b in expr_pale], size=7.5, fill_color="#F3C3A2", line_color=None)
hi_mid = pc.scatter([a for a, _ in expr_mid], [b for _, b in expr_mid], size=8.2, fill_color="#F0A05A", line_color=None)
pc.scatter([a for a, _ in expr_high], [b for _, b in expr_high], size=8.6, fill_color="#EC7A40", line_color=None)
pc.scatter([a for a, _ in expr_top], [b for _, b in expr_top], size=7.5, fill_color="#D8402C", line_color=None)
items_c[14] = LegendItem(label=cluster_names[14], renderers=[hi_mid])
finish_legend(pc, items_c, -4)
pc.add_layout(Label(x=531 - FRAME_LEFT, y=1714 - 1225, x_units="screen", y_units="screen", text="NHLH2", text_font=SANS,
                    text_font_size="20px", text_color="#222222", text_baseline="middle"))
pc.patch(pointer_x, pointer_y, fill_color="#EA1A22", line_color=None)

page = column(row(letter_fig("A", 628, 21, "46px"), pa, spacing=0),
              row(letter_fig("B", 568, 38, "47px"), pb, spacing=0),
              row(letter_fig("C", 552, 30, "47px"), pc, spacing=0), spacing=0)
open("out.html", "w").write(file_html(page, INLINE))
